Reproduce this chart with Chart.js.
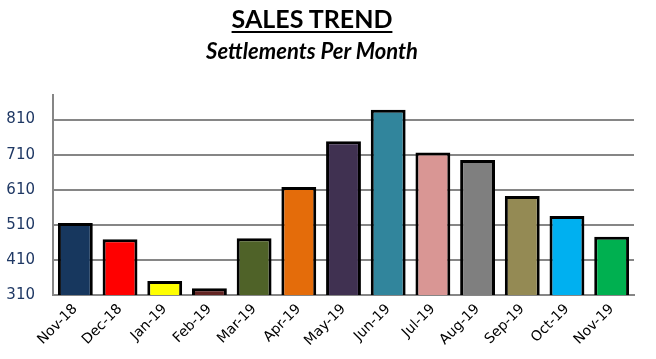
<!DOCTYPE html>
<html>
<head>
<meta charset="utf-8">
<script src="https://cdn.jsdelivr.net/npm/chart.js"></script>
<style>
  html, body { margin: 0; padding: 0; background: #fff; }
  #wrap { position: relative; width: 656px; height: 359px; }
  #title, #subtitle {
    position: absolute; left: 0; width: 656px; text-align: center;
    font-family: Lato, "Open Sans", sans-serif; font-weight: bold; color: #000;
    white-space: nowrap;
  }
  #title { top: 3px; font-size: 25px; line-height: 30px; text-decoration: underline; text-decoration-thickness: 2px; text-underline-offset: 3px; left: -16px; }
  #subtitle { top: 37px; font-size: 22px; line-height: 28px; font-style: italic; left: -16px; }
</style>
</head>
<body>
<div id="wrap">
  <canvas id="sales-chart" width="656" height="359"></canvas>
  <div id="title">SALES TREND</div>
  <div id="subtitle">Settlements Per Month</div>
</div>
<script>
const months = ['Nov-18', 'Dec-18', 'Jan-19', 'Feb-19', 'Mar-19', 'Apr-19', 'May-19',
  'Jun-19', 'Jul-19', 'Aug-19', 'Sep-19', 'Oct-19', 'Nov-19']
const settlements = [515, 469, 350, 329, 472, 618, 748, 838, 716, 695, 592, 535, 476]
const barColors = ['#17375E', '#FF0000', '#FFFF00', '#632523', '#4F6228', '#E46C0A', '#403151',
  '#31859C', '#D99694', '#7F7F7F', '#948A54', '#00B0F0', '#00B050']
const yTicks = [310, 410, 510, 610, 710, 810]

const gridGray = '#868686'

const ctx = document.getElementById('sales-chart').getContext('2d')
new Chart(ctx, {
  type: 'bar',
  data: {
    labels: months,
    datasets: [{
      label: 'Settlements',
      data: settlements,
      backgroundColor: barColors,
      borderColor: '#000',
      borderWidth: 3,
      borderSkipped: false,
      barPercentage: 0.78,
      categoryPercentage: 1,
    }],
  },
  options: {
    responsive: false,
    animation: false,
    layout: { padding: { top: 95, right: 22, left: 0, bottom: 0 } },
    plugins: { legend: { display: false }, tooltip: { enabled: false } },
    scales: {
      x: {
        grid: { display: false, drawTicks: false },
        border: { display: true, color: gridGray, width: 2 },
        ticks: {
          maxRotation: 45, minRotation: 45, padding: 6,
          color: '#000',
          font: { family: 'DejaVu Sans', size: 14 },
        },
        afterFit: (scale) => { scale.height = 64 },
      },
      y: {
        min: 310,
        max: 880,
        afterBuildTicks: (scale) => { scale.ticks = yTicks.map(v => ({ value: v })) },
        grid: { color: gridGray, lineWidth: 2, drawTicks: false },
        border: { display: true, color: gridGray, width: 2 },
        ticks: {
          padding: 18,
          color: '#1F3864',
          font: { family: 'DejaVu Sans', size: 15 },
        },
        afterFit: (scale) => { scale.width = 53 },
      },
    },
  },
})
</script>
</body>
</html>
